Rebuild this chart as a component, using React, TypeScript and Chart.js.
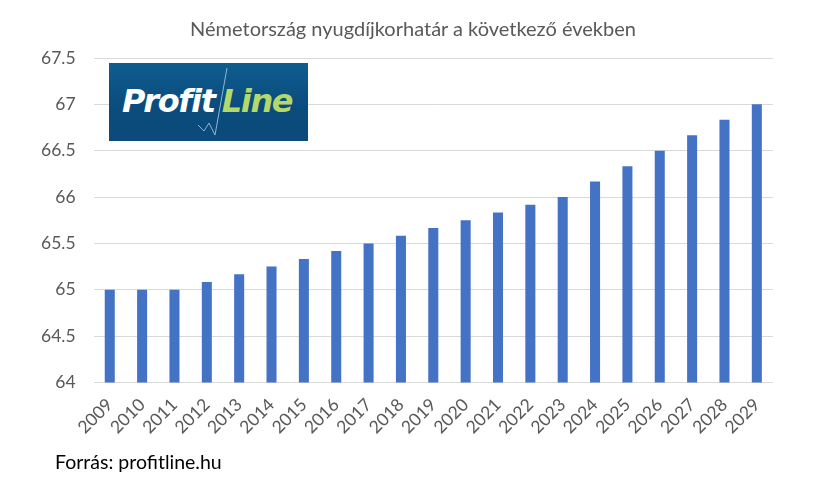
import React, { useEffect, useRef } from "react";
import { Chart, registerables } from "chart.js";

Chart.register(...registerables);

const title = "Németország nyugdíjkorhatár a következő években";
const source = "Forrás: profitline.hu";
const years = [
  "2009", "2010", "2011", "2012", "2013", "2014", "2015", "2016", "2017", "2018", "2019",
  "2020", "2021", "2022", "2023", "2024", "2025", "2026", "2027", "2028", "2029",
];
const retirementAge = [
  65, 65, 65, 65.083, 65.167, 65.25, 65.333, 65.417, 65.5, 65.583, 65.667,
  65.75, 65.833, 65.917, 66, 66.167, 66.333, 66.5, 66.667, 66.833, 67,
];
const yMin = 64;
const yMax = 67.5;
const yStep = 0.5;

const FONT = "Lato, 'Open Sans', sans-serif";

export default function App() {
  const ref = useRef<HTMLCanvasElement | null>(null);

  useEffect(() => {
    if (!ref.current) return;
    const chart = new Chart(ref.current, {
      type: "bar",
      data: {
        labels: years,
        datasets: [
          {
            data: retirementAge,
            backgroundColor: "#4472c4",
            barPercentage: 0.62,
            categoryPercentage: 0.5,
          },
        ],
      },
      options: {
        responsive: false,
        animation: false,
        devicePixelRatio: 1,
        layout: { padding: { left: 23, right: 46, top: 58, bottom: 42 } },
        plugins: {
          legend: { display: false },
          tooltip: { enabled: false },
          title: { display: false },
        },
        scales: {
          x: {
            grid: { display: false },
            border: { display: false },
            afterFit: (scale: any) => {
              scale.paddingLeft = 0;
              scale.paddingRight = 0;
            },
            ticks: {
              color: "#595959",
              font: { family: FONT, size: 17.5 },
              maxRotation: 45,
              minRotation: 45,
              padding: 4,
              autoSkip: false,
            },
          },
          y: {
            min: yMin,
            max: yMax,
            grid: { color: "#d9d9d9", lineWidth: 1, drawTicks: false },
            border: { display: false },
            ticks: {
              stepSize: yStep,
              color: "#595959",
              font: { family: FONT, size: 17.5 },
              padding: 18,
              callback: (v: any) => String(Number(v)),
            },
          },
        },
      },
    });
    return () => chart.destroy();
  }, []);

  return (
    <div style={{ position: "absolute", left: 0, top: 0, width: 819, height: 484, background: "#fff" }}>
      <canvas ref={ref} width={819} height={484} style={{ display: "block" }} />
      <div
        style={{
          position: "absolute",
          left: 0,
          top: 16,
          width: 826,
          textAlign: "center",
          fontFamily: FONT,
          fontSize: 20,
          lineHeight: "24px",
          color: "#595959",
          whiteSpace: "nowrap",
        }}
      >
        {title}
      </div>
      <div
        style={{
          position: "absolute",
          left: 109,
          top: 63,
          width: 199,
          height: 78,
          background: "linear-gradient(180deg, #0f5d8f 0%, #0a4c7d 55%, #0b4a7a 100%)",
          overflow: "hidden",
        }}
      >
        <svg width={199} height={78} style={{ position: "absolute", left: 0, top: 0 }}>
          <line x1={118} y1={5} x2={106} y2={72} stroke="#8fb4d4" strokeWidth={1} />
          <polyline points="89,62 95,68 100,60 106,72" fill="none" stroke="#8fb4d4" strokeWidth={1} />
        </svg>
        <div
          style={{
            position: "absolute",
            left: 13,
            top: 18,
            fontFamily: "'DejaVu Sans', Verdana, sans-serif",
            fontWeight: "bold",
            fontStyle: "italic",
            fontSize: 32,
            lineHeight: "40px",
            whiteSpace: "nowrap",
            letterSpacing: -1.3,
          }}
        >
          <span style={{ color: "#ffffff" }}>Profit</span>
          <span style={{ color: "#b5d86a", marginLeft: 7 }}>Line</span>
        </div>
      </div>
      <div
        style={{
          position: "absolute",
          left: 55,
          top: 451,
          fontFamily: FONT,
          fontSize: 19.5,
          color: "#000",
          lineHeight: "22px",
          whiteSpace: "nowrap",
        }}
      >
        {source}
      </div>
    </div>
  );
}
